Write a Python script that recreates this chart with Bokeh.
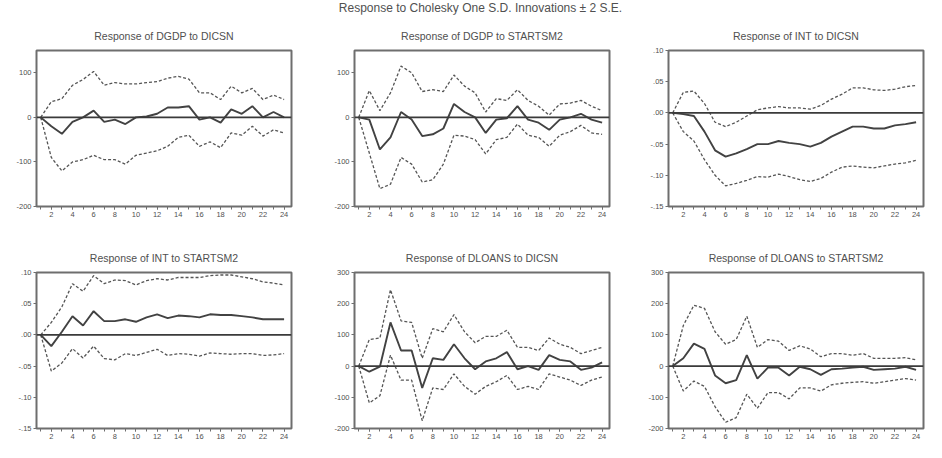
from bokeh.plotting import figure
from bokeh.layouts import column, row
from bokeh.models import FixedTicker, Span, Range1d
from bokeh.embed import file_html
from bokeh.resources import INLINE

periods = list(range(1, 25))
x_labels = list(range(2, 25, 2))

main_title = "Response to Cholesky One S.D. Innovations \u00b1 2 S.E."

titles = [
    "Response of DGDP to DICSN",
    "Response of DGDP to STARTSM2",
    "Response of INT to DICSN",
    "Response of INT to STARTSM2",
    "Response of DLOANS to DICSN",
    "Response of DLOANS to STARTSM2",
]

# y ticks and labels
dgdp_ticks = [-200, -100, 0, 100]
dgdp_labels = ["-200", "-100", "0", "100"]
int_ticks = [-0.15, -0.10, -0.05, 0, 0.05, 0.10]
int_labels = ["-.15", "-.10", "-.05", ".00", ".05", ".10"]
loans_ticks = [-200, -100, 0, 100, 200, 300]
loans_labels = ["-200", "-100", "0", "100", "200", "300"]

# Response of DGDP to DICSN
dgdp_dicsn = [0, -20, -37, -10, 0, 15, -10, -5, -15, 0, 2, 8, 22, 22, 25, -5, 0, -12, 18, 8, 25, 0, 12, 0]
dgdp_dicsn_up = [0, 35, 42, 72, 85, 103, 72, 78, 75, 75, 78, 80, 88, 92, 86, 55, 55, 40, 70, 55, 65, 40, 50, 40]
dgdp_dicsn_lo = [0, -90, -120, -100, -95, -85, -95, -95, -105, -85, -80, -75, -65, -45, -40, -65, -55, -68, -35, -40, -20, -42, -28, -35]

# Response of DGDP to STARTSM2
dgdp_start = [0, -5, -72, -45, 12, -5, -42, -38, -25, 30, 12, 0, -35, -5, -2, 25, -5, -12, -28, -5, 0, 8, -5, -12]
dgdp_start_up = [0, 60, 15, 55, 115, 100, 58, 62, 58, 95, 70, 55, 12, 42, 38, 62, 38, 25, 5, 30, 32, 38, 25, 15]
dgdp_start_lo = [0, -80, -160, -150, -90, -105, -145, -140, -105, -40, -42, -50, -82, -50, -45, -15, -40, -45, -65, -40, -32, -18, -35, -38]

# Response of INT to DICSN
int_dicsn = [0, -0.002, -0.005, -0.03, -0.06, -0.07, -0.065, -0.058, -0.05, -0.05, -0.045, -0.048, -0.05, -0.054, -0.048, -0.038, -0.03, -0.022, -0.022, -0.025, -0.025, -0.02, -0.018, -0.015]
int_dicsn_up = [0, 0.033, 0.035, 0.015, -0.015, -0.022, -0.015, -0.005, 0.005, 0.008, 0.01, 0.008, 0.008, 0.006, 0.012, 0.022, 0.03, 0.04, 0.04, 0.037, 0.036, 0.038, 0.042, 0.044]
int_dicsn_lo = [0, -0.03, -0.045, -0.075, -0.1, -0.117, -0.113, -0.108, -0.102, -0.103, -0.098, -0.102, -0.107, -0.11, -0.105, -0.095, -0.087, -0.085, -0.087, -0.088, -0.085, -0.082, -0.08, -0.076]

# Response of INT to STARTSM2
int_start = [0, -0.018, 0.005, 0.03, 0.015, 0.038, 0.022, 0.022, 0.025, 0.021, 0.028, 0.033, 0.027, 0.031, 0.03, 0.028, 0.033, 0.032, 0.032, 0.03, 0.028, 0.025, 0.025, 0.025]
int_start_up = [0, 0.02, 0.045, 0.082, 0.07, 0.095, 0.082, 0.088, 0.087, 0.08, 0.087, 0.09, 0.088, 0.092, 0.092, 0.092, 0.095, 0.096, 0.096, 0.093, 0.09, 0.085, 0.083, 0.08]
int_start_lo = [0, -0.058, -0.045, -0.022, -0.037, -0.018, -0.038, -0.04, -0.03, -0.033, -0.028, -0.023, -0.033, -0.03, -0.031, -0.034, -0.029, -0.03, -0.031, -0.03, -0.03, -0.033, -0.032, -0.03]

# Response of DLOANS to DICSN
loans_dicsn = [0, -18, -2, 140, 50, 50, -70, 25, 20, 70, 25, -10, 15, 25, 45, -10, 0, -12, 35, 20, 15, -12, -5, 12]
loans_dicsn_up = [0, 85, 90, 245, 145, 140, 25, 120, 110, 165, 110, 75, 95, 95, 115, 60, 60, 50, 90, 70, 60, 40, 50, 60]
loans_dicsn_lo = [0, -118, -95, 35, -45, -45, -175, -70, -75, -25, -65, -90, -65, -50, -30, -75, -65, -75, -25, -35, -45, -62, -45, -35]

# Response of DLOANS to STARTSM2
loans_start = [0, 25, 72, 55, -30, -55, -45, 35, -40, -5, -5, -30, -2, -10, -28, -10, -8, -5, -2, -12, -10, -8, -2, -12]
loans_start_up = [0, 130, 195, 185, 110, 70, 85, 160, 60, 85, 80, 50, 65, 55, 30, 40, 40, 35, 40, 25, 25, 25, 27, 20]
loans_start_lo = [0, -80, -48, -65, -130, -180, -165, -90, -135, -85, -85, -105, -70, -70, -80, -60, -55, -52, -50, -55, -50, -45, -40, -45]

FONT = "Liberation Sans"
TXT = "#505050"
FRAME = "#6e6e6e"
LINE = "#424242"
DASH = "#555555"


def panel(title, width, bl, br, height, bt, bb, yr, yt, ylab, s, up, lo):
    p = figure(width=width, height=height, x_range=Range1d(0.6, 24.7),
               y_range=Range1d(*yr), output_backend="svg", toolbar_location=None,
               min_border_left=bl, min_border_right=br, min_border_top=bt,
               min_border_bottom=bb, title=title)
    p.title.align = "center"
    p.title.text_font = FONT
    p.title.text_font_size = "10.5px"
    p.title.text_font_style = "normal"
    p.title.text_color = TXT
    p.title.standoff = 18
    p.xgrid.visible = False
    p.ygrid.visible = False
    p.outline_line_color = FRAME
    p.outline_line_width = 2
    p.background_fill_color = "white"
    p.border_fill_color = "white"

    p.xaxis.ticker = FixedTicker(ticks=x_labels, minor_ticks=periods)
    p.yaxis.ticker = FixedTicker(ticks=yt)
    p.yaxis.major_label_overrides = {t: l for t, l in zip(yt, ylab)}
    for ax in (p.xaxis[0], p.yaxis[0]):
        ax.axis_line_color = None
        ax.major_tick_line_color = FRAME
        ax.minor_tick_line_color = FRAME
        ax.major_tick_in = 0
        ax.major_tick_out = 3
        ax.minor_tick_in = 0
        ax.minor_tick_out = 3
        ax.major_label_text_font = FONT
        ax.major_label_text_font_size = "7.5px"
        ax.major_label_text_color = TXT
        ax.major_label_standoff = 2
    p.yaxis.minor_tick_line_color = None

    p.add_layout(Span(location=0, dimension="width", line_color="#3a3a3a", line_width=1.6))
    p.line(periods, up, line_color=DASH, line_width=1.3, line_dash="3 2")
    p.line(periods, lo, line_color=DASH, line_width=1.3, line_dash="3 2")
    p.line(periods, s, line_color=LINE, line_width=1.9)
    return p


# (figure width, left border, right border) per column
widths = [(322, 36, 31), (322, 32, 35), (282, 24, 3)]
row1_h, row1_bt, row1_bb = 222, 36, 30
row2_h, row2_bt, row2_bb = 206, 36, 14

specs = [
    (titles[0], (-200, 150), dgdp_ticks, dgdp_labels, dgdp_dicsn, dgdp_dicsn_up, dgdp_dicsn_lo),
    (titles[1], (-200, 150), dgdp_ticks, dgdp_labels, dgdp_start, dgdp_start_up, dgdp_start_lo),
    (titles[2], (-0.15, 0.10), int_ticks, int_labels, int_dicsn, int_dicsn_up, int_dicsn_lo),
    (titles[3], (-0.15, 0.10), int_ticks, int_labels, int_start, int_start_up, int_start_lo),
    (titles[4], (-200, 300), loans_ticks, loans_labels, loans_dicsn, loans_dicsn_up, loans_dicsn_lo),
    (titles[5], (-200, 300), loans_ticks, loans_labels, loans_start, loans_start_up, loans_start_lo),
]

figs = []
for i, (t, yr, yt, yl, s, u, l) in enumerate(specs):
    w, bl, br = widths[i % 3]
    if i < 3:
        h, bt, bb = row1_h, row1_bt, row1_bb
    else:
        h, bt, bb = row2_h, row2_bt, row2_bb
    figs.append(panel(t, w, bl, br, h, bt, bb, yr, yt, yl, s, u, l))

top = figure(width=926, height=14, x_range=Range1d(0, 1), y_range=Range1d(0, 1),
             output_backend="svg", toolbar_location=None, title=main_title,
             min_border_left=34, min_border_right=0, min_border_top=13, min_border_bottom=0)
top.title.align = "center"
top.title.text_font = FONT
top.title.text_font_size = "12px"
top.title.text_font_style = "normal"
top.title.text_color = TXT
top.title.standoff = 0
top.axis.visible = False
top.grid.visible = False
top.outline_line_color = None
top.border_fill_color = "white"

layout = column(top, row(*figs[:3]), row(*figs[3:]), spacing=0)

open("out.html", "w").write(file_html(layout, INLINE))
